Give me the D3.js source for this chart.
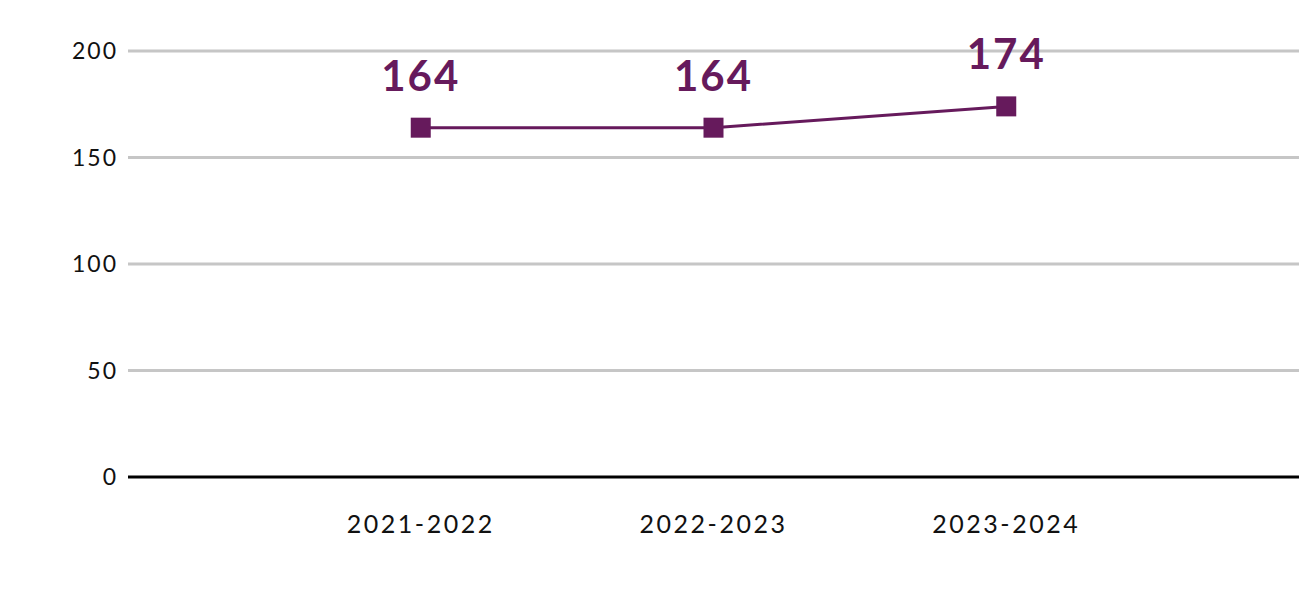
<!DOCTYPE html>
<html><head><meta charset="utf-8">
<script src="https://cdn.jsdelivr.net/npm/d3@7"></script>
<style>body{margin:0;background:#fff}svg{font-family:Lato,"Open Sans",sans-serif}</style>
</head><body><svg id="c" width="1299" height="591"></svg>
<script>
const categories = ["2021-2022","2022-2023","2023-2024"];
const values = [164,164,174];
const yTicks = [0,50,100,150,200];
const color = "#661a5c";
const svg = d3.select("#c");
const x = d3.scaleLinear().domain([0,4]).range([128,1299]);
const y = d3.scaleLinear().domain([0,200]).range([477,51]);
svg.selectAll(".g").data(yTicks).join("line")
  .attr("x1",128).attr("x2",1299).attr("y1",d=>y(d)).attr("y2",d=>y(d))
  .attr("stroke",d=>d===0?"#000":"#c6c6c6").attr("stroke-width",3);
svg.selectAll(".yl").data(yTicks).join("text")
  .attr("x",118).attr("y",d=>y(d)).attr("dy","0.35em").attr("text-anchor","end")
  .attr("font-size",23).attr("letter-spacing",2).attr("fill","#111").text(d=>d);
svg.selectAll(".xl").data(categories).join("text")
  .attr("x",(d,i)=>x(i+1)).attr("y",533).attr("text-anchor","middle")
  .attr("font-size",25).attr("letter-spacing",2.5).attr("fill","#111").text(d=>d);
svg.append("path").datum(values)
  .attr("d",d3.line().x((d,i)=>x(i+1)).y(d=>y(d)))
  .attr("fill","none").attr("stroke",color).attr("stroke-width",3);
svg.selectAll(".m").data(values).join("rect")
  .attr("x",(d,i)=>x(i+1)-10).attr("y",d=>y(d)-10).attr("width",20).attr("height",20).attr("fill",color);
svg.selectAll(".vl").data(values).join("text")
  .attr("x",(d,i)=>x(i+1)).attr("y",d=>y(d)-37).attr("text-anchor","middle")
  .attr("font-size",42).attr("letter-spacing",2).attr("font-weight","bold").attr("fill",color).text(d=>d);
</script></body></html>
